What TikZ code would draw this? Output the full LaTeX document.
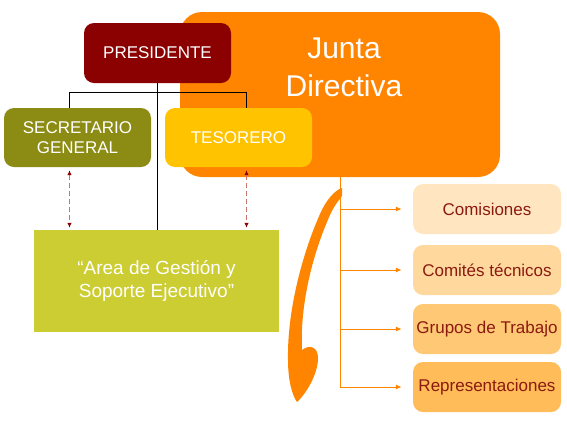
\documentclass[tikz,border=0pt]{standalone}
\usepackage{fontspec}
\setmainfont{Liberation Sans}
\usetikzlibrary{arrows.meta}
\definecolor{jdNaranja}{HTML}{FF8500}
\definecolor{jdGranate}{HTML}{8B0000}
\definecolor{jdOliva}{HTML}{8C8C14}
\definecolor{jdOro}{HTML}{FFC300}
\definecolor{jdLima}{HTML}{CCCC33}
\definecolor{jdTexto}{HTML}{8B1A10}
\definecolor{jdRosa}{HTML}{C87272}
\definecolor{jdCrema1}{HTML}{FFE6C0}
\definecolor{jdCrema2}{HTML}{FFD89E}
\definecolor{jdCrema3}{HTML}{FFC874}
\definecolor{jdCrema4}{HTML}{FFBC58}
\begin{document}
\begin{tikzpicture}[x=1pt, y=-1pt,
      c/.style={rounded corners=10pt, fill=#1, text=white, inner sep=0pt,
                minimum width=147pt, minimum height=59pt,
                font=\fontsize{17}{19.5}\selectfont},
      g/.style={rounded corners=10pt, fill=#1, text=jdTexto, inner sep=0pt,
                minimum width=148pt, minimum height=50pt,
                font=\fontsize{17}{19.5}\selectfont},
      org/.style={draw=black, line width=0.8pt},
      rama/.style={draw=jdNaranja, line width=1pt, -{Latex[length=6pt,width=5pt]}},
      enlace/.style={draw=jdRosa, line width=1.6pt, dash pattern=on 5pt off 3pt,
                {Latex[length=5pt,width=4.5pt,color=jdGranate]}-{Latex[length=5pt,width=4.5pt,color=jdGranate]},
                shorten <=3pt, shorten >=2pt},
      every node/.style={align=center}]
    \useasboundingbox (0,0) rectangle (567,424);
    \node[rounded corners=22pt, fill=jdNaranja, minimum width=320pt, minimum height=165pt, inner sep=0pt]
         (junta) at (340,94.5) {};
    \node[text=white, font=\fontsize{30}{38}\selectfont] (juntatxt) at (344,67) {Junta\\Directiva};
    \node[c=jdGranate, minimum height=60pt] (pres) at (157.5,53) {PRESIDENTE};
    \node[c=jdOliva] (secre) at (77.5,137.5) {SECRETARIO\\GENERAL};
    \node[c=jdOro]   (teso) at (238.5,137.5) {TESORERO};
    \node[fill=jdLima, text=white, minimum width=245pt, minimum height=102pt, inner sep=0pt,
          font=\fontsize{19}{23}\selectfont] (area) at (156.5,281) {“Area de Gestión y\\Soporte Ejecutivo”};
    \node[g=jdCrema1] (com) at (487,209) {Comisiones};
    \node[g=jdCrema2] (comt) at (487,270) {Comités técnicos};
    \node[g=jdCrema3] (grup) at (487,329) {Grupos de Trabajo};
    \node[g=jdCrema4] (rep) at (487,387) {Representaciones};

    \draw[org] (pres.south) -- (pres.south |- area.north);
    \draw[org] ([xshift=-8pt]secre.north) -- ++(0,-15) -| ([xshift=8pt]teso.north);
    \draw[enlace] ([xshift=-8pt]secre.south) -- ([xshift=-8pt]secre.south |- area.north);
    \draw[enlace] ([xshift=8pt]teso.south) -- ([xshift=8pt]teso.south |- area.north);

    \draw[draw=jdNaranja, line width=1pt] (junta.south) -- (junta.south |- rep.west);
    \foreach \n in {com,comt,grup,rep}
      \draw[rama, shorten >=11pt] (junta.south |- \n.west) -- (\n.west);

    \fill[jdNaranja] (342,188) .. controls (335,190) and (326,200) .. (320,214)
      .. controls (303,252) and (287,310) .. (288,360)
      .. controls (288,380) and (292,395) .. (297,402)
      .. controls (305,395) and (318,375) .. (318,358)
      .. controls (318,347) and (310,344) .. (302,350)
      .. controls (300,310) and (310,260) .. (330,215)
      .. controls (335,204) and (340,199) .. (342,196) -- cycle;
  \end{tikzpicture}
\end{document}
